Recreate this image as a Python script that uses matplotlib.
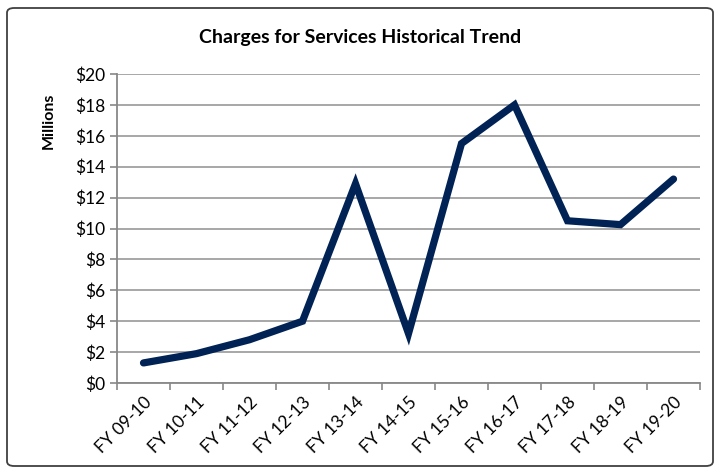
import matplotlib.pyplot as plt
from matplotlib.patches import FancyBboxPatch
from matplotlib.ticker import FixedLocator

years = ["FY 09-10", "FY 10-11", "FY 11-12", "FY 12-13", "FY 13-14", "FY 14-15",
         "FY 15-16", "FY 16-17", "FY 17-18", "FY 18-19", "FY 19-20"]
charges = [1.3, 1.9, 2.8, 4.0, 12.9, 3.2, 15.5, 18.0, 10.5, 10.25, 13.2]
yticks = list(range(0, 21, 2))

plt.rcParams["font.family"] = ["Lato", "DejaVu Sans"]

fig = plt.figure(figsize=(7.2, 4.72), dpi=100)
ax = fig.add_axes([117 / 720, 1 - 383 / 472, (700 - 117) / 720, (383 - 74) / 472])

# outer chart border
border = FancyBboxPatch((7 / 720, 6 / 472), 706 / 720, 458 / 472,
                        boxstyle="round,pad=0,rounding_size=0.01",
                        transform=fig.transFigure, fill=False,
                        edgecolor="#404040", linewidth=1.3)
fig.patches.append(border)

x = list(range(len(years)))
ax.plot(x, charges, color="#002255", linewidth=5.2, solid_joinstyle="miter",
        solid_capstyle="round", zorder=3)

ax.set_xlim(-0.5, len(years) - 0.5)
ax.set_ylim(0, 20)
ax.set_yticks(yticks)
ax.set_yticklabels([f"${v}" for v in yticks], fontsize=12.5)
ax.yaxis.grid(True, color="#a0a0a0", linewidth=1.3)
ax.set_axisbelow(True)

# ticks at category edges, labels at centers
ax.xaxis.set_major_locator(FixedLocator([i - 0.5 for i in range(len(years) + 1)]))
ax.xaxis.set_major_formatter(plt.NullFormatter())
ax.xaxis.set_minor_locator(FixedLocator(x))
ax.set_xticklabels(years, minor=True, rotation=45, ha="right",
                   rotation_mode="anchor", fontsize=12.5)
ax.tick_params(axis="x", which="minor", length=0, pad=8)
ax.tick_params(axis="both", which="major", length=5, width=1.2, color="#888888")

for s in ["top", "right"]:
    ax.spines[s].set_visible(False)
for s in ["left", "bottom"]:
    ax.spines[s].set_color("#888888")
    ax.spines[s].set_linewidth(1.3)

ax.set_ylabel("Millions", fontsize=11.5, fontweight="bold")
ax.yaxis.set_label_coords(-0.105, 0.85)
fig.text(0.5, 1 - 38 / 472, "Charges for Services Historical Trend",
         ha="center", va="center", fontsize=14, fontweight="bold")

fig.savefig("out.png", dpi=100)
